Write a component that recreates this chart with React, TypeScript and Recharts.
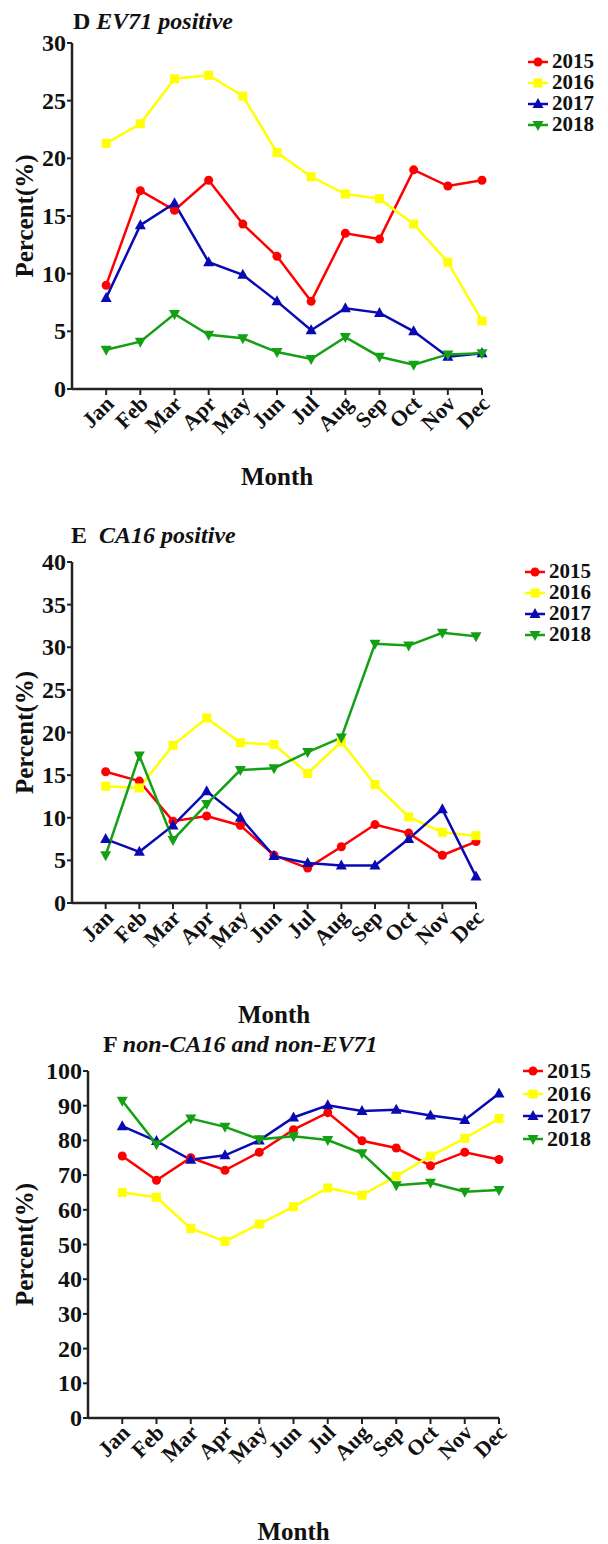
import React from 'react';
import { LineChart, Line, XAxis, YAxis, Legend, Label } from 'recharts';

const MONTHS = ['Jan', 'Feb', 'Mar', 'Apr', 'May', 'Jun', 'Jul', 'Aug', 'Sep', 'Oct', 'Nov', 'Dec'];
const YEARS = ['2015', '2016', '2017', '2018'];

// D: EV71 positive
const EV71_2015 = [9.0, 17.2, 15.5, 18.1, 14.3, 11.5, 7.6, 13.5, 13.0, 19.0, 17.6, 18.1];
const EV71_2016 = [21.3, 23.0, 26.9, 27.2, 25.4, 20.5, 18.4, 16.9, 16.5, 14.3, 11.0, 5.9];
const EV71_2017 = [7.9, 14.2, 16.1, 11.0, 9.9, 7.6, 5.1, 7.0, 6.6, 5.0, 2.8, 3.1];
const EV71_2018 = [3.4, 4.1, 6.5, 4.7, 4.4, 3.2, 2.6, 4.5, 2.8, 2.1, 3.0, 3.1];

// E: CA16 positive
const CA16_2015 = [15.4, 14.3, 9.6, 10.2, 9.1, 5.6, 4.1, 6.6, 9.2, 8.2, 5.6, 7.2];
const CA16_2016 = [13.7, 13.5, 18.5, 21.7, 18.8, 18.6, 15.2, 18.9, 13.9, 10.1, 8.3, 7.9];
const CA16_2017 = [7.5, 6.0, 9.1, 13.1, 10.0, 5.5, 4.7, 4.4, 4.4, 7.5, 11.0, 3.1];
const CA16_2018 = [5.6, 17.3, 7.4, 11.6, 15.6, 15.8, 17.7, 19.4, 30.4, 30.2, 31.7, 31.3];

// F: non-CA16 and non-EV71
const OTHER_2015 = [75.5, 68.5, 75.0, 71.4, 76.6, 83.1, 88.0, 79.9, 77.8, 72.7, 76.6, 74.5];
const OTHER_2016 = [65.0, 63.6, 54.6, 50.9, 55.9, 60.9, 66.3, 64.2, 69.7, 75.5, 80.6, 86.3];
const OTHER_2017 = [84.1, 79.8, 74.4, 75.7, 80.0, 86.6, 90.1, 88.5, 88.8, 87.2, 85.9, 93.5];
const OTHER_2018 = [91.4, 78.9, 86.3, 83.9, 80.3, 81.2, 80.1, 76.3, 67.1, 67.8, 65.2, 65.7];

const TICKS_D = [0, 5, 10, 15, 20, 25, 30];
const TICKS_E = [0, 5, 10, 15, 20, 25, 30, 35, 40];
const TICKS_F = [0, 10, 20, 30, 40, 50, 60, 70, 80, 90, 100];

const COLORS: Record<string, string> = {
  '2015': '#FF0000',
  '2016': '#FFFF00',
  '2017': '#0A0AB4',
  '2018': '#14A014',
};

const SERIF = '"Liberation Serif", "Times New Roman", serif';

function toRows(series: number[][]) {
  return MONTHS.map((month, i) => {
    const row: Record<string, number | string> = { m: i + 1, month };
    YEARS.forEach((year, k) => {
      row[year] = series[k][i];
    });
    return row;
  });
}

function Marker({ year, cx, cy }: { year: string; cx: number; cy: number }) {
  const c = COLORS[year];
  if (year === '2015') return <circle cx={cx} cy={cy} r={4.5} fill={c} />;
  if (year === '2016') return <rect x={cx - 4.5} y={cy - 4.5} width={9} height={9} fill={c} />;
  if (year === '2017')
    return <polygon points={`${cx},${cy - 6} ${cx - 5.5},${cy + 4} ${cx + 5.5},${cy + 4}`} fill={c} />;
  return <polygon points={`${cx},${cy + 6} ${cx - 5.5},${cy - 4} ${cx + 5.5},${cy - 4}`} fill={c} />;
}

const YTick = (props: any) => {
  const { x, y, payload } = props;
  return (
    <text x={x} y={y} textAnchor="end" dominantBaseline="central" fontFamily={SERIF} fontWeight={700} fontSize={24} fill="#111">
      {payload.value}
    </text>
  );
};

const XTick = (props: any) => {
  const { x, y, payload } = props;
  const tx = x + 9;
  const ty = y + 8;
  return (
    <text
      x={tx}
      y={ty}
      textAnchor="end"
      fontFamily={SERIF}
      fontWeight={700}
      fontSize={22}
      fill="#111"
      transform={`rotate(-45 ${tx} ${ty})`}
    >
      {MONTHS[payload.value - 1]}
    </text>
  );
};

function makeLegend(rowHeight: number, fontSize: number) {
  return (props: any) => {
    const { payload } = props;
    return (
      <div>
        {payload.map((entry: any) => (
          <div key={entry.value} style={{ display: 'flex', alignItems: 'center', height: rowHeight }}>
            <svg width={22} height={14} style={{ overflow: 'visible' }}>
              <line x1={1} y1={7} x2={21} y2={7} stroke={COLORS[entry.value]} strokeWidth={2.5} />
              <Marker year={entry.value} cx={11} cy={7} />
            </svg>
            <span style={{ fontFamily: SERIF, fontWeight: 700, fontSize, color: '#111', marginLeft: 3, lineHeight: 1 }}>
              {entry.value}
            </span>
          </div>
        ))}
      </div>
    );
  };
}

type PanelProps = {
  top: number;
  height: number;
  series: number[][];
  ticks: number[];
  margin: { top: number; right: number; bottom: number; left: number };
  yWidth: number;
  xHeight: number;
  legendPos: { left: number; top: number };
  rowHeight: number;
  legendFont: number;
  title: React.ReactNode;
  titlePos: { left: number; top: number };
};

function Panel(p: PanelProps) {
  const data = toRows(p.series);
  const max = p.ticks[p.ticks.length - 1];
  return (
    <div style={{ position: 'absolute', left: 0, top: p.top, width: 608, height: p.height }}>
      <div
        style={{
          position: 'absolute',
          left: p.titlePos.left,
          top: p.titlePos.top,
          fontFamily: SERIF,
          fontWeight: 700,
          fontSize: 24,
          lineHeight: 1,
          color: '#111',
          whiteSpace: 'pre',
          zIndex: 2,
        }}
      >
        {p.title}
      </div>
      <LineChart width={608} height={p.height} data={data} margin={p.margin}>
        <XAxis
          dataKey="m"
          type="number"
          domain={[0, 12]}
          ticks={[1, 2, 3, 4, 5, 6, 7, 8, 9, 10, 11, 12]}
          interval={0}
          height={p.xHeight}
          tick={<XTick />}
          tickSize={6}
          tickLine={{ stroke: '#222', strokeWidth: 2 }}
          axisLine={{ stroke: '#222', strokeWidth: 2.5 }}
        >
          <Label
            value="Month"
            position="insideBottom"
            offset={4}
            style={{ fontFamily: SERIF, fontWeight: 700, fontSize: 25, fill: '#111' }}
          />
        </XAxis>
        <YAxis
          type="number"
          domain={[0, max]}
          ticks={p.ticks}
          interval={0}
          width={p.yWidth}
          tick={<YTick />}
          tickSize={5}
          tickMargin={1}
          tickLine={{ stroke: '#222', strokeWidth: 2 }}
          axisLine={{ stroke: '#222', strokeWidth: 2.5 }}
        >
          <Label
            content={(lp: any) => {
              const vb = lp.viewBox;
              const cx = 24;
              const cy = vb.y + vb.height / 2;
              return (
                <text
                  x={cx}
                  y={cy}
                  textAnchor="middle"
                  dominantBaseline="central"
                  transform={`rotate(-90 ${cx} ${cy})`}
                  fontFamily={SERIF}
                  fontWeight={700}
                  fontSize={25}
                  fill="#111"
                >
                  Percent(%)
                </text>
              );
            }}
          />
        </YAxis>
        <Legend
          layout="vertical"
          align="center"
          verticalAlign="middle"
          content={makeLegend(p.rowHeight, p.legendFont)}
          wrapperStyle={{ left: p.legendPos.left, top: p.legendPos.top, width: 90 }}
        />
        {YEARS.map((year) => (
          <Line
            key={year}
            dataKey={year}
            name={year}
            stroke={COLORS[year]}
            strokeWidth={2.5}
            isAnimationActive={false}
            dot={(dp: any) => <Marker key={`${year}-${dp.index}`} year={year} cx={dp.cx} cy={dp.cy} />}
            activeDot={false}
          />
        ))}
      </LineChart>
    </div>
  );
}

export default function App() {
  return (
    <div style={{ position: 'absolute', left: 0, top: 0, width: 608, height: 1544, background: '#fff' }}>
      <Panel
        top={0}
        height={495}
        series={[EV71_2015, EV71_2016, EV71_2017, EV71_2018]}
        ticks={TICKS_D}
        margin={{ top: 43, right: 126, bottom: 6, left: 0 }}
        yWidth={72}
        xHeight={100}
        legendPos={{ left: 527, top: 51 }}
        rowHeight={21}
        legendFont={21}
        title={
          <span>
            D <i>EV71 positive</i>
          </span>
        }
        titlePos={{ left: 73, top: 9 }}
      />
      <Panel
        top={500}
        height={527}
        series={[CA16_2015, CA16_2016, CA16_2017, CA16_2018]}
        ticks={TICKS_E}
        margin={{ top: 62, right: 132, bottom: 0, left: 0 }}
        yWidth={72}
        xHeight={124}
        legendPos={{ left: 524, top: 61 }}
        rowHeight={21}
        legendFont={21}
        title={
          <span>
            E  <i>CA16 positive</i>
          </span>
        }
        titlePos={{ left: 71, top: 23 }}
      />
      <Panel
        top={1030}
        height={514}
        series={[OTHER_2015, OTHER_2016, OTHER_2017, OTHER_2018]}
        ticks={TICKS_F}
        margin={{ top: 41, right: 109, bottom: 0, left: 0 }}
        yWidth={88}
        xHeight={126}
        legendPos={{ left: 522, top: 30 }}
        rowHeight={22.5}
        legendFont={22}
        title={
          <span>
            F <i>non-CA16 and non-EV71</i>
          </span>
        }
        titlePos={{ left: 103, top: 2 }}
      />
    </div>
  );
}
